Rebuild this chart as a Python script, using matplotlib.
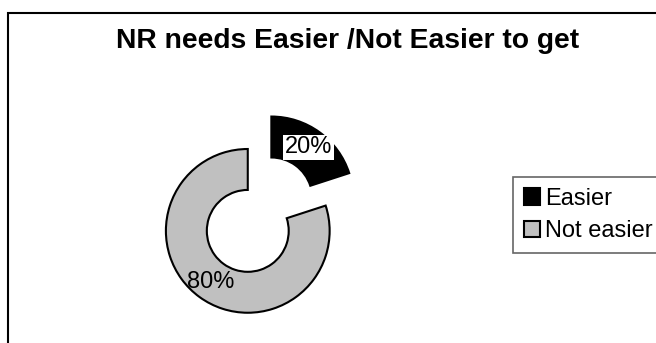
import matplotlib.pyplot as plt
from matplotlib.patches import Rectangle

plt.rcParams['font.family'] = ['Liberation Sans', 'DejaVu Sans']

# data
labels = ['Easier', 'Not easier']
shares = [20, 80]
colors = ['#000000', '#c0c0c0']
title = 'NR needs Easier /Not Easier to get'

fig = plt.figure(figsize=(6.56, 3.43), dpi=100)

# outer frame (cut off on the right and bottom like the original)
fig.patches.append(Rectangle((0.012, -0.1), 1.1, 1.062, transform=fig.transFigure,
                             fill=False, edgecolor='black', linewidth=1.5))

ax = fig.add_axes([0.178, -0.055, 0.3994, 0.7638])
wedges, texts, autotexts = ax.pie(shares, colors=colors, startangle=90, counterclock=False,
                                  explode=[0.49, 0], autopct='%1.0f%%', pctdistance=0.77,
                                  wedgeprops=dict(width=0.5, edgecolor='black', linewidth=1.5),
                                  textprops=dict(fontsize=17, color='black'))
autotexts[0].set_bbox(dict(facecolor='white', edgecolor='none', pad=1))
ax.set_xlim(-1.6, 1.6)
ax.set_ylim(-1.6, 1.6)
ax.set_aspect('equal')
ax.axis('off')

fig.text(0.53, 0.860, title, ha='center', va='baseline', fontsize=20.3, fontweight='bold')

leg = fig.legend(wedges, labels, loc='upper left', bbox_to_anchor=(0.782, 0.484),
                 fontsize=17, frameon=True, fancybox=False, handlelength=0.7, handleheight=0.7,
                 handletextpad=0.2, labelspacing=0.45, borderpad=0.45, borderaxespad=0)
leg.get_frame().set_edgecolor('#404040')
leg.get_frame().set_linewidth(1.2)

plt.savefig('out.png', dpi=100)
